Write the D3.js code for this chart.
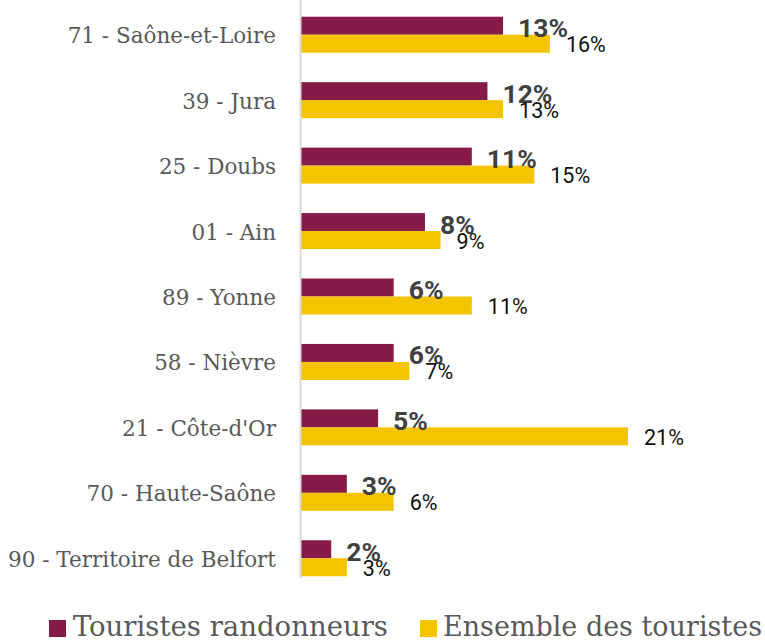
<!DOCTYPE html>
<html>
<head>
<meta charset="utf-8">
<script src="https://cdn.jsdelivr.net/npm/d3@7"></script>
<style>
  body { margin:0; padding:0; background:#fff; }
  svg { display:block; }
</style>
</head>
<body>
<div id="chart"></div>
<script>
// departements, top to bottom
var departements = ["71 - Saône-et-Loire", "39 - Jura", "25 - Doubs", "01 - Ain", "89 - Yonne",
  "58 - Nièvre", "21 - Côte-d'Or", "70 - Haute-Saône ", "90 - Territoire de Belfort"];
var randonneurs = [13, 12, 11, 8, 6, 6, 5, 3, 2];
var ensemble = [16, 13, 15, 9, 11, 7, 21, 6, 3];
var series = ["Touristes randonneurs", "Ensemble des touristes"];
var colors = ["#861b47", "#f5c400"];

var W = 765, H = 641;
var svg = d3.select("#chart").append("svg").attr("width", W).attr("height", H);

var x = d3.scaleLinear().domain([0, 21]).range([300, 628]);
var y = d3.scaleBand().domain(departements).range([2, 591])
  .paddingInner(0.45).paddingOuter(0.225);
var bh = y.bandwidth() / 2;

// bars
var g = svg.append("g");
departements.forEach(function(d, i) {
  var y0 = y(d);
  g.append("rect").attr("x", x(0)).attr("y", y0)
    .attr("width", x(randonneurs[i]) - x(0)).attr("height", bh).attr("fill", colors[0]);
  g.append("rect").attr("x", x(0)).attr("y", y0 + bh)
    .attr("width", x(ensemble[i]) - x(0)).attr("height", bh).attr("fill", colors[1]);
});

// axis line
svg.append("line").attr("x1", 300.5).attr("x2", 300.5).attr("y1", 0).attr("y2", 578)
  .attr("stroke", "#d9d9d9").attr("stroke-width", 2);

// category labels
svg.append("g").selectAll("text").data(departements).join("text")
  .attr("x", 276).attr("y", function(d) { return y(d) + bh + 1; })
  .attr("text-anchor", "end").attr("dominant-baseline", "central")
  .style("font-family", "'DejaVu Serif'").style("font-size", "21.5px")
  .attr("fill", "#595959")
  .text(function(d) { return d; });

// value labels
departements.forEach(function(d, i) {
  svg.append("text").attr("x", x(randonneurs[i]) + 15).attr("y", y(d) + bh / 2 + 2)
    .attr("dominant-baseline", "central")
    .style("font-family", "Roboto").style("font-weight", "bold").style("font-size", "26.5px")
    .attr("fill", "#404040").text(randonneurs[i] + "%");
  svg.append("text").attr("x", x(ensemble[i]) + 16).attr("y", y(d) + bh * 1.5 + 1)
    .attr("dominant-baseline", "central")
    .style("font-family", "Roboto").style("font-size", "21.5px")
    .attr("fill", "#111").text(ensemble[i] + "%");
});

// legend
var leg = [{x: 49, tx: 73, w: 315}, {x: 420, tx: 443, w: 319}];
leg.forEach(function(l, i) {
  svg.append("rect").attr("x", l.x).attr("y", 620).attr("width", 17).attr("height", 17)
    .attr("fill", colors[i]);
  svg.append("text").attr("x", l.tx).attr("y", 636)
    .style("font-family", "'DejaVu Serif Condensed', 'DejaVu Serif'").style("font-size", "27px")
    .attr("textLength", l.w).attr("lengthAdjust", "spacingAndGlyphs")
    .attr("fill", "#595959").text(series[i]);
});
</script>
</body>
</html>
